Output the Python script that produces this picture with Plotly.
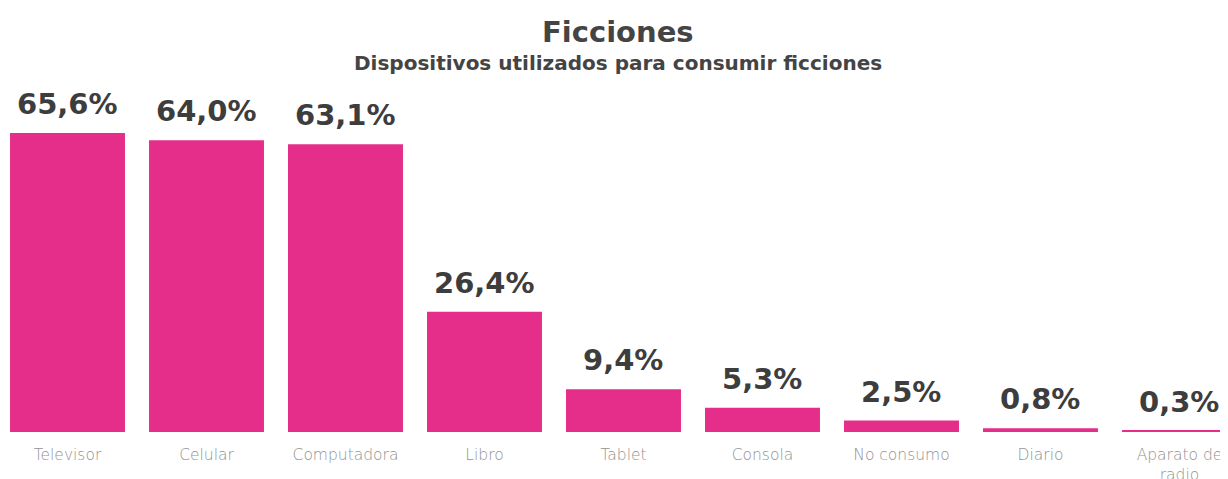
import plotly.graph_objects as go

categories = ["Televisor", "Celular", "Computadora", "Libro", "Tablet",
              "Consola", "No consumo", "Diario", "Aparato de<br>radio"]
values = [65.6, 64.0, 63.1, 26.4, 9.4, 5.3, 2.5, 0.8, 0.3]
labels = ["65,6%", "64,0%", "63,1%", "26,4%", "9,4%", "5,3%", "2,5%", "0,8%", "0,3%"]

pink = "#E52E8A"
dark = "#3d3d3d"

fig = go.Figure()
fig.add_trace(go.Bar(
    x=list(range(len(categories))), y=values,
    marker=dict(color=pink, line=dict(width=0)),
    hoverinfo="skip",
))

# value labels above the bars
for i, (v, t) in enumerate(zip(values, labels)):
    fig.add_annotation(
        x=i, y=v, text=t, showarrow=False, yanchor="bottom", yshift=10,
        font=dict(family="DejaVu Sans", size=29, color=dark, weight=700),
    )

# titles (page body has an 8px margin, so positions are offset)
fig.add_annotation(
    text="Ficciones", xref="paper", yref="paper", x=0.5, y=1.0,
    yanchor="middle", yshift=-24, showarrow=False,
    font=dict(family="DejaVu Sans", size=29, color="#444444", weight=700),
)
fig.add_annotation(
    text="Dispositivos utilizados para consumir ficciones",
    xref="paper", yref="paper", x=0.5, y=1.0, yanchor="middle",
    yshift=-55, showarrow=False,
    font=dict(family="DejaVu Sans", size=20, color="#444444", weight=700),
)

fig.update_layout(
    width=1220, height=471,
    margin=dict(l=0, r=0, t=0, b=47),
    paper_bgcolor="white", plot_bgcolor="white",
    showlegend=False,
    bargap=0.173,
    xaxis=dict(
        range=[-0.428, 8.349], tickmode="array",
        tickvals=list(range(len(categories))), ticktext=categories,
        showgrid=False, zeroline=False, showline=False, ticks="",
        ticklabelstandoff=11, automargin=False,
        tickfont=dict(family="DejaVu Sans", size=15.5, color="#929292", weight=200),
        fixedrange=True,
    ),
    yaxis=dict(range=[0, 93.0], visible=False, fixedrange=True, automargin=False),
)

fig.write_html("out.html")
